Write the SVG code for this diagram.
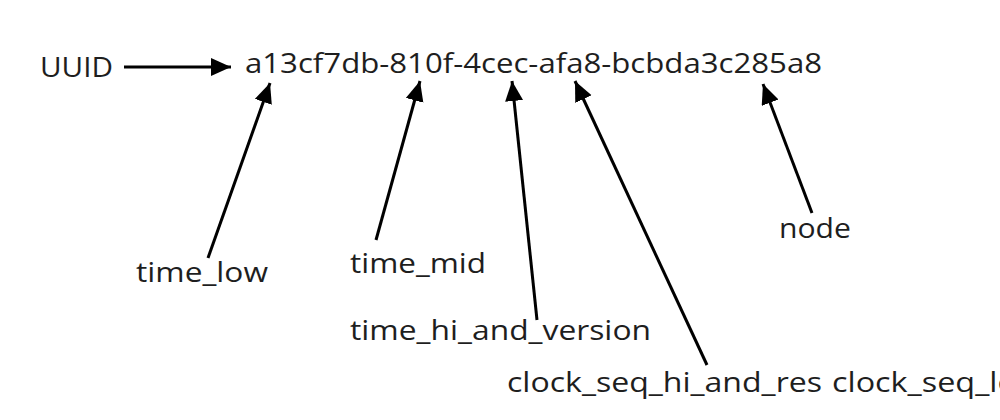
<svg xmlns="http://www.w3.org/2000/svg" width="1000" height="420" viewBox="0 0 1000 420">
  <style>
    text { font-family: "Open Sans", "Noto Sans", "Liberation Sans", sans-serif; font-size: 28px; fill: #1e1e1e; }
    .conn { stroke: #000; stroke-width: 3; fill: none; marker-end: url(#head); }
  </style>
  <defs>
    <marker id="head" markerUnits="userSpaceOnUse" markerWidth="22" markerHeight="20" refX="20" refY="9" orient="auto">
      <path d="M0,0 L20,9 L0,18 Z" fill="#000"/>
    </marker>
  </defs>
  <rect width="1000" height="420" fill="#fff"/>
  <g id="connectors">
    <line class="conn" x1="124" y1="67" x2="231" y2="67"/>
    <line class="conn" x1="208" y1="258" x2="270" y2="83"/>
    <line class="conn" x1="376" y1="240" x2="420" y2="81"/>
    <line class="conn" x1="537" y1="320" x2="512" y2="81"/>
    <line class="conn" x1="707" y1="365" x2="575" y2="81"/>
    <line class="conn" x1="812" y1="213" x2="763" y2="84"/>
  </g>
  <g id="uuid-label"><text x="40" y="77" textLength="73" lengthAdjust="spacingAndGlyphs">UUID</text></g>
  <g id="uuid-value"><text x="245" y="73" textLength="577" lengthAdjust="spacingAndGlyphs">a13cf7db-810f-4cec-afa8-bcbda3c285a8</text></g>
  <g id="time_low"><text x="136" y="282" textLength="132" lengthAdjust="spacingAndGlyphs">time_low</text></g>
  <g id="time_mid"><text x="350" y="273" textLength="136" lengthAdjust="spacingAndGlyphs">time_mid</text></g>
  <g id="time_hi_and_version"><text x="350" y="340" textLength="301" lengthAdjust="spacingAndGlyphs">time_hi_and_version</text></g>
  <g id="node"><text x="779" y="238" textLength="72" lengthAdjust="spacingAndGlyphs">node</text></g>
  <g id="clock_seq_hi_and_res"><text x="507" y="392" textLength="315" lengthAdjust="spacingAndGlyphs">clock_seq_hi_and_res</text></g>
  <g id="clock_seq_low"><text x="832" y="392" textLength="210" lengthAdjust="spacingAndGlyphs">clock_seq_low</text></g>
</svg>
